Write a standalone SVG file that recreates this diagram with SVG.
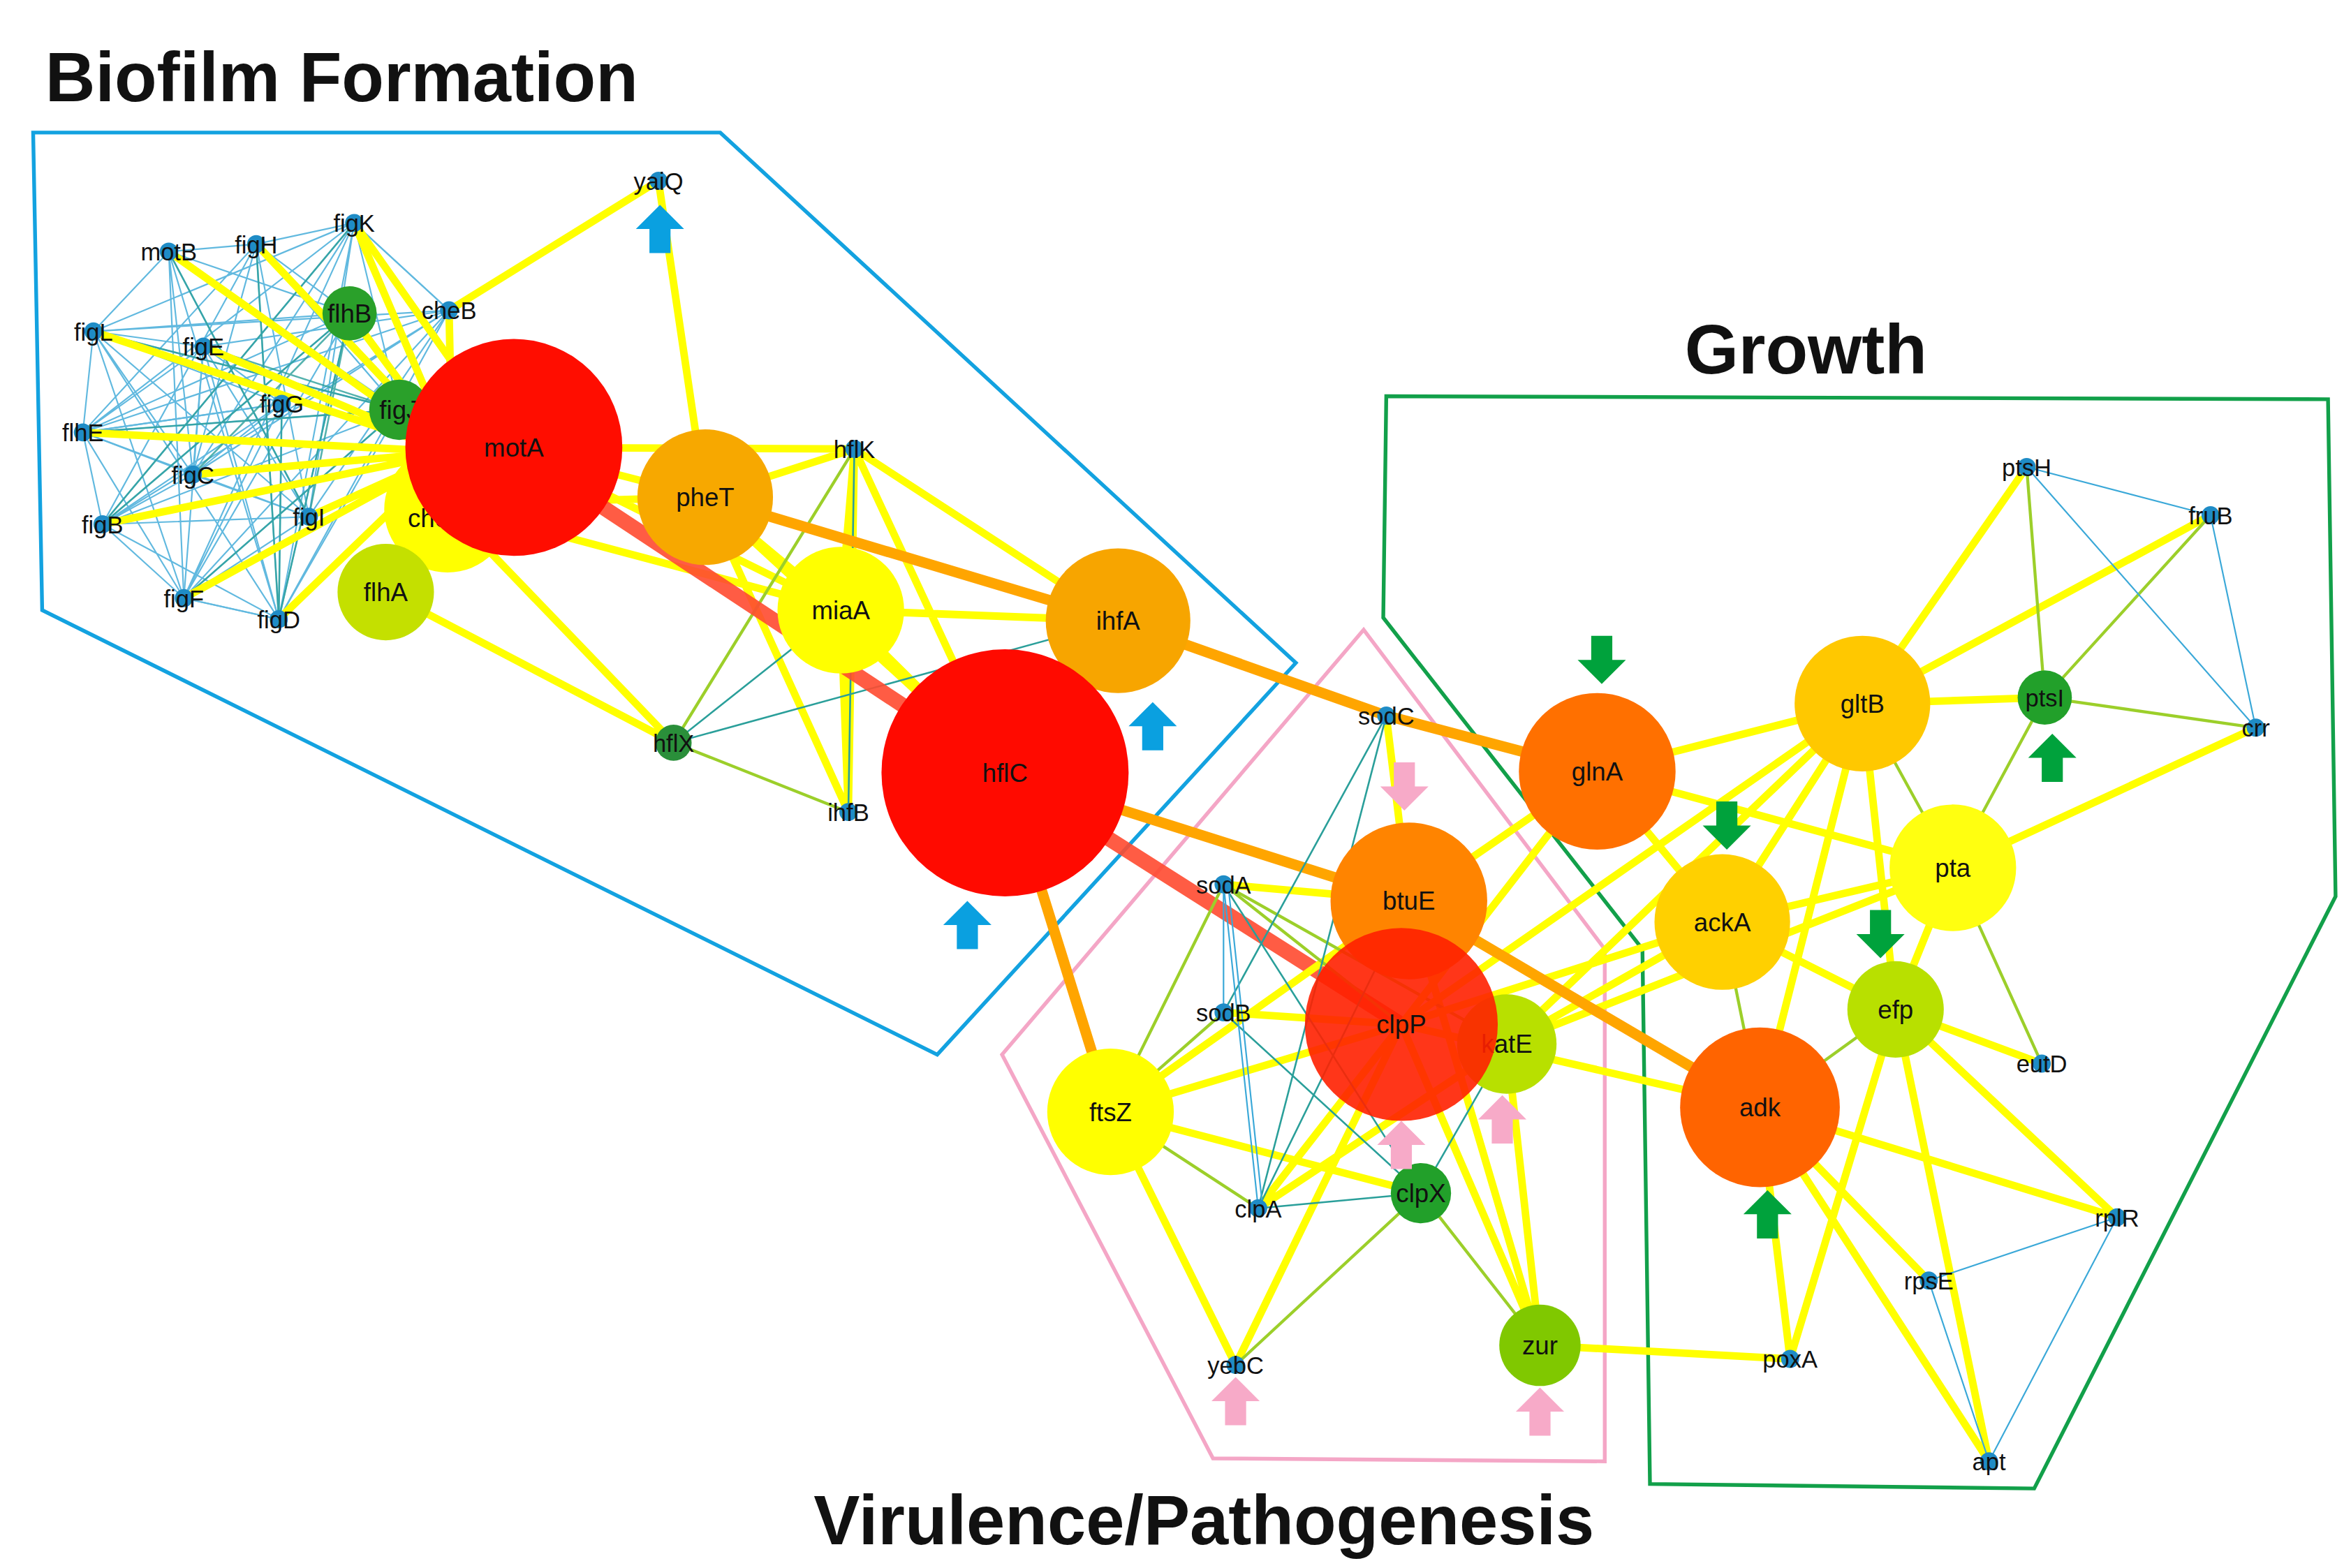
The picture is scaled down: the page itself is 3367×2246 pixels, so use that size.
<svg xmlns="http://www.w3.org/2000/svg" width="3367" height="2246" viewBox="0 0 3367 2246">
<style>
text{font-family:"Liberation Sans",Arial,sans-serif;fill:#111;text-anchor:middle}
.lbl{font-size:17px}
.sm{font-size:16px}
.title{font-size:46px;font-weight:bold;text-anchor:start}
.y{stroke:#ffff00;stroke-width:5;fill:none}
.yt{stroke:#f0f020;stroke-width:3;fill:none}
.o{stroke:#ffa500;stroke-width:7;fill:none}
.r{stroke:#ff4a30;stroke-width:10;fill:none;opacity:.9}
.g{stroke:#9ccf2a;stroke-width:2;fill:none}
.b{stroke:#3aa8d8;stroke-width:1;fill:none}
.t{stroke:#2a9f9a;stroke-width:1.2;fill:none}
.dot{fill:#1f8cc6}
.abl{fill:#0aa0e0}.apk{fill:#f7aac8}.agr{fill:#00a23c}
</style>
<defs>
<path id="up" d="M0,-16 L16,0 L7,0 L7,16 L-7,16 L-7,0 L-16,0 Z"/>
<path id="dn" d="M0,16 L16,0 L7,0 L7,-16 L-7,-16 L-7,0 L-16,0 Z"/>
</defs>
<rect width="3367" height="2246" fill="#fff"/>
<g transform="scale(2.158)">
<g id="regions" fill="none" stroke-width="2.5">
<polygon points="22,88 478,88 860,440 622,700 28,405" stroke="#13a2e0"/>
<polygon points="905,418 1065,630 1065,970 805,968 665,700" stroke="#f4a6c6"/>
<polygon points="920,263 1545,265 1550,595 1350,988 1095,985 1090,630 918,410" stroke="#12a04a"/>
</g>
<g id="titles">
<text class="title" x="30" y="67">Biofilm Formation</text>
<text class="title" x="1118" y="248">Growth</text>
<text class="title" x="540" y="1025">Virulence/Pathogenesis</text>
</g>
<g id="connectors">
<g class="b" opacity="0.8">
<path d="M112,167L170,162L235,148L298,206L62,220L135,230L187,268L55,287L128,315L68,348L205,343L122,397L185,411L112,167"/>
<path d="M112,167L62,220L55,287L68,348L122,397L185,411L298,206L235,148L62,220L187,268L68,348L185,411L170,162L55,287L122,397L135,230L205,343L112,167"/>
<path d="M170,162L128,315L235,148L122,397L298,206L68,348L235,148L185,411L62,220L205,343L298,206L128,315L187,268L122,397L112,167L128,315L135,230L55,287L205,343L170,162L68,348L298,206L55,287L187,268L185,411L135,230L298,206L122,397L62,220L128,315L205,343L235,148L55,287"/>
<path d="M232,208L62,220M232,208L55,287M232,208L68,348M232,208L122,397M232,208L185,411M265,272L62,220M265,272L112,167M265,272L55,287M265,272L68,348M265,272L122,397M265,272L185,411M265,272L235,148M265,272L170,162M232,208L112,167M232,208L170,162"/>
</g>
<g class="t" opacity="0.8">
<path d="M62,220L265,272M55,287L265,272M68,348L232,208M122,397L265,272M185,411L232,208M135,230L265,272M128,315L232,208M205,343L232,208M187,268L185,411M112,167L205,343M235,148L68,348M170,162L185,411"/>
</g>
<g class="y" stroke-width="6">
<path d="M112,167L300,300M170,162L300,300M235,148L300,300M62,220L300,300M135,230L300,300M55,287L300,300M128,315L300,300M68,348L300,300M122,397L300,300M185,411L300,300M205,343L300,300M298,206L300,300M232,208L300,300M256,393L340,297"/>
<path d="M235,148L340,297M298,206L437,120M437,120L468,330"/>
</g>
<g class="y">
<path d="M340,297L468,330M340,297L558,405M340,297L567,298M295,335L468,330M295,335L558,405M256,393L447,493M295,335L447,493M468,330L567,298M468,330L558,405M468,330L563,539M567,298L742,412M567,298L558,405M567,298L563,539M567,298L667,513M558,405L563,539M558,405L742,412M558,405L667,513M742,412L667,513M468,330L667,513"/>
</g>
<path class="g" d="M567,298L447,493M447,493L563,539"/>
<path class="t" d="M558,405L447,493M742,412L447,493M567,298L563,539"/>
<path class="o" d="M468,330L742,412M742,412L920,475L1060,512M667,513L935,598M667,513L737,738"/>
<path class="r" d="M340,297L667,513M667,513L930,680"/>
<g class="y">
<path d="M920,475L935,598M812,587L935,598M812,672L930,680M737,738L930,680M737,738L935,598M737,738L820,906M737,738L943,792M835,802L930,680M835,802L1000,693M820,906L930,680M930,680L1022,893M1000,693L1022,893M935,598L1022,893M1022,893L1188,902"/>
</g>
<g class="g">
<path d="M812,587L930,680M812,587L737,738M812,672L737,738M737,738L835,802M820,906L943,792M943,792L1022,893M812,587L1000,693"/>
</g>
<g class="t">
<path d="M920,475L812,672M920,475L835,802M812,587L943,792M812,672L943,792M835,802L943,792M943,792L1000,693M835,802L935,598"/>
</g>
<g class="b"><path d="M812,587L835,802M815,587L838,802M812,587L812,672"/></g>
<g class="y">
<path d="M1060,512L1236,467M1060,512L1143,612M1060,512L935,598M1060,512L930,680M1236,467L1357,463M1236,467L1345,310M1236,467L1467,342M1236,467L1143,612M1236,467L1168,735M1236,467L1258,670M1296,576L1497,483M1296,576L1143,612M1296,576L1258,670M1296,576L1060,512M1143,612L1258,670M1143,612L930,680M1143,612L1000,693M1258,670L1355,706M1258,670L1405,808M1258,670L1188,902M1258,670L1320,970M1168,735L1405,808M1168,735L1280,850M1168,735L1320,970M1168,735L1188,902M1168,735L930,680M1236,467L1000,693M1236,467L930,680M1296,576L1000,693"/>
</g>
<g class="g">
<path d="M1357,463L1497,483M1357,463L1345,310M1357,463L1467,342M1357,463L1296,576M1296,576L1355,706M1143,612L1168,735M1258,670L1168,735M1236,467L1296,576"/>
</g>
<g class="b"><path d="M1345,310L1467,342M1467,342L1497,483M1345,310L1497,483M1405,808L1280,850M1280,850L1320,970M1405,808L1320,970"/></g>
<path class="o" d="M935,598L1168,735"/>
</g>
<g id="nodes">
<g id="n-figJ"><circle cx="265" cy="272" r="20" fill="#2aa02a"/><text class="lbl" x="265" y="278">figJ</text></g>
<g id="n-flhB"><circle cx="232" cy="208" r="18" fill="#2aa02a"/><text class="lbl" x="232" y="214">flhB</text></g>
<g id="n-motB"><circle cx="112" cy="167" r="6" class="dot"/><text class="sm" x="112" y="173">motB</text></g>
<g id="n-figH"><circle cx="170" cy="162" r="6" class="dot"/><text class="sm" x="170" y="168">figH</text></g>
<g id="n-figK"><circle cx="235" cy="148" r="6" class="dot"/><text class="sm" x="235" y="154">figK</text></g>
<g id="n-cheB"><circle cx="298" cy="206" r="6" class="dot"/><text class="sm" x="298" y="212">cheB</text></g>
<g id="n-figL"><circle cx="62" cy="220" r="6" class="dot"/><text class="sm" x="62" y="226">figL</text></g>
<g id="n-figE"><circle cx="135" cy="230" r="6" class="dot"/><text class="sm" x="135" y="236">figE</text></g>
<g id="n-figG"><circle cx="187" cy="268" r="6" class="dot"/><text class="sm" x="187" y="274">figG</text></g>
<g id="n-flhE"><circle cx="55" cy="287" r="6" class="dot"/><text class="sm" x="55" y="293">flhE</text></g>
<g id="n-figC"><circle cx="128" cy="315" r="6" class="dot"/><text class="sm" x="128" y="321">figC</text></g>
<g id="n-figB"><circle cx="68" cy="348" r="6" class="dot"/><text class="sm" x="68" y="354">figB</text></g>
<g id="n-figI"><circle cx="205" cy="343" r="6" class="dot"/><text class="sm" x="205" y="349">figI</text></g>
<g id="n-figF"><circle cx="122" cy="397" r="6" class="dot"/><text class="sm" x="122" y="403">figF</text></g>
<g id="n-figD"><circle cx="185" cy="411" r="6" class="dot"/><text class="sm" x="185" y="417">figD</text></g>
<g id="n-cheA"><circle cx="297" cy="338" r="42" fill="#ffff00"/><text class="lbl" x="290" y="350">cheA</text></g>
<g id="n-flhA"><circle cx="256" cy="393" r="32" fill="#c4e000"/><text class="lbl" x="256" y="399">flhA</text></g>
<g id="n-motA"><circle cx="341" cy="297" r="72" fill="#ff0d00"/><text class="lbl" x="341" y="303">motA</text></g>
<g id="n-yaiQ"><circle cx="437" cy="120" r="6" class="dot"/><text class="sm" x="437" y="126">yaiQ</text></g>
<g id="n-pheT"><circle cx="468" cy="330" r="45" fill="#f7a800"/><text class="lbl" x="468" y="336">pheT</text></g>
<g id="n-hflK"><circle cx="567" cy="298" r="6" class="dot"/><text class="sm" x="567" y="304">hflK</text></g>
<g id="n-miaA"><circle cx="558" cy="405" r="42" fill="#ffff00"/><text class="lbl" x="558" y="411">miaA</text></g>
<g id="n-ihfA"><circle cx="742" cy="412" r="48" fill="#f7a500"/><text class="lbl" x="742" y="418">ihfA</text></g>
<g id="n-hflX"><circle cx="447" cy="493" r="12" fill="#2a8f3a"/><text class="sm" x="447" y="499">hflX</text></g>
<g id="n-ihfB"><circle cx="563" cy="539" r="6" class="dot"/><text class="sm" x="563" y="545">ihfB</text></g>
<g id="n-hflC"><circle cx="667" cy="513" r="82" fill="#ff0a00"/><text class="lbl" x="667" y="519">hflC</text></g>
<g id="n-sodC"><circle cx="920" cy="475" r="6" class="dot"/><text class="sm" x="920" y="481">sodC</text></g>
<g id="n-sodA"><circle cx="812" cy="587" r="6" class="dot"/><text class="sm" x="812" y="593">sodA</text></g>
<g id="n-sodB"><circle cx="812" cy="672" r="6" class="dot"/><text class="sm" x="812" y="678">sodB</text></g>
<g id="n-ftsZ"><circle cx="737" cy="738" r="42" fill="#ffff00"/><text class="lbl" x="737" y="744">ftsZ</text></g>
<g id="n-katE"><circle cx="1000" cy="693" r="33" fill="#b8e000"/><text class="lbl" x="1000" y="699">katE</text></g>
<g id="n-btuE"><circle cx="935" cy="598" r="52" fill="#ff8400"/><text class="lbl" x="935" y="604">btuE</text></g>
<g id="n-clpP"><circle cx="930" cy="680" r="64" fill="#ff2000" opacity="0.9"/><text class="lbl" x="930" y="686">clpP</text></g>
<g id="n-clpA"><circle cx="835" cy="802" r="6" class="dot"/><text class="sm" x="835" y="808">clpA</text></g>
<g id="n-clpX"><circle cx="943" cy="792" r="20" fill="#22a02a"/><text class="lbl" x="943" y="798">clpX</text></g>
<g id="n-yebC"><circle cx="820" cy="906" r="6" class="dot"/><text class="sm" x="820" y="912">yebC</text></g>
<g id="n-zur"><circle cx="1022" cy="893" r="27" fill="#80c800"/><text class="lbl" x="1022" y="899">zur</text></g>
<g id="n-glnA"><circle cx="1060" cy="512" r="52" fill="#ff7000"/><text class="lbl" x="1060" y="518">glnA</text></g>
<g id="n-gltB"><circle cx="1236" cy="467" r="45" fill="#ffc800"/><text class="lbl" x="1236" y="473">gltB</text></g>
<g id="n-ptsI"><circle cx="1357" cy="463" r="18" fill="#22a02a"/><text class="sm" x="1357" y="469">ptsI</text></g>
<g id="n-ptsH"><circle cx="1345" cy="310" r="6" class="dot"/><text class="sm" x="1345" y="316">ptsH</text></g>
<g id="n-fruB"><circle cx="1467" cy="342" r="6" class="dot"/><text class="sm" x="1467" y="348">fruB</text></g>
<g id="n-crr"><circle cx="1497" cy="483" r="6" class="dot"/><text class="sm" x="1497" y="489">crr</text></g>
<g id="n-pta"><circle cx="1296" cy="576" r="42" fill="#ffff10"/><text class="lbl" x="1296" y="582">pta</text></g>
<g id="n-ackA"><circle cx="1143" cy="612" r="45" fill="#ffd000"/><text class="lbl" x="1143" y="618">ackA</text></g>
<g id="n-efp"><circle cx="1258" cy="670" r="32" fill="#b8e000"/><text class="lbl" x="1258" y="676">efp</text></g>
<g id="n-eutD"><circle cx="1355" cy="706" r="6" class="dot"/><text class="sm" x="1355" y="712">eutD</text></g>
<g id="n-adk"><circle cx="1168" cy="735" r="53" fill="#ff6400"/><text class="lbl" x="1168" y="741">adk</text></g>
<g id="n-rplR"><circle cx="1405" cy="808" r="6" class="dot"/><text class="sm" x="1405" y="814">rplR</text></g>
<g id="n-rpsE"><circle cx="1280" cy="850" r="6" class="dot"/><text class="sm" x="1280" y="856">rpsE</text></g>
<g id="n-poxA"><circle cx="1188" cy="902" r="6" class="dot"/><text class="sm" x="1188" y="908">poxA</text></g>
<g id="n-apt"><circle cx="1320" cy="970" r="6" class="dot"/><text class="sm" x="1320" y="976">apt</text></g>
</g>
<g id="arrows">
<use href="#up" class="abl" x="438" y="152"/>
<use href="#up" class="abl" x="765" y="482"/>
<use href="#up" class="abl" x="642" y="614"/>
<use href="#dn" class="apk" x="932" y="522"/>
<use href="#up" class="apk" x="930" y="760"/>
<use href="#up" class="apk" x="997" y="743"/>
<use href="#up" class="apk" x="820" y="930"/>
<use href="#up" class="apk" x="1022" y="937"/>
<use href="#dn" class="agr" x="1063" y="438"/>
<use href="#dn" class="agr" x="1146" y="548"/>
<use href="#dn" class="agr" x="1248" y="620"/>
<use href="#up" class="agr" x="1362" y="503"/>
<use href="#up" class="agr" x="1173" y="806"/>
</g>
</g>
</svg>
